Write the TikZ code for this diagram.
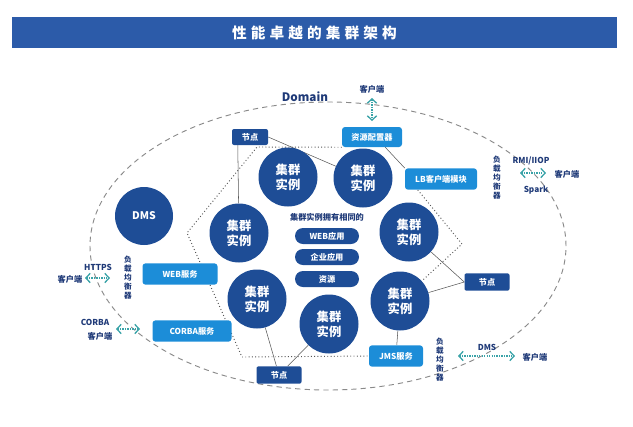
\documentclass[tikz,border=0pt]{standalone}
\usepackage{fontspec}
\setmainfont{Noto Sans CJK SC}
\usetikzlibrary{arrows.meta, backgrounds}

\definecolor{barblue}{HTML}{2C5BA9}
\definecolor{deepblue}{HTML}{1E4D96}
\definecolor{skyblue}{HTML}{1C8DD8}
\definecolor{inkblue}{HTML}{1F3A78}
\definecolor{linkteal}{HTML}{3AA3A8}
\definecolor{wiregray}{HTML}{555555}
\definecolor{ringgray}{HTML}{8A8A8A}

\newcommand{\tsp}{\hspace{3.5pt}}

\begin{document}
\begin{tikzpicture}
  [
    x = 0.3mm, y = -0.3mm,
    every node/.style = {inner sep=0pt, font=\bfseries\fontsize{7}{8}\selectfont},
    titlebar/.style = {fill=barblue, text=white, minimum width=181.5mm, minimum height=9.3mm,
      font=\bfseries\fontsize{12.5}{14}\selectfont},
    inst/.style = {circle, fill=deepblue, text=white, minimum size=17.7mm, align=center,
      font=\bfseries\fontsize{10.5}{12.5}\selectfont},
    app/.style = {rounded corners=2.4mm, fill=deepblue, text=white, minimum width=19.2mm, minimum height=4.8mm},
    svc/.style = {rounded corners=0.9mm, fill=skyblue, text=white, minimum height=6.4mm},
    host/.style = {rounded corners=0.6mm, fill=deepblue, text=white, minimum height=5.2mm},
    lbl/.style = {text=inkblue},
    vlbl/.style = {text=inkblue, align=center, font=\bfseries\fontsize{6.5}{7.7}\selectfont},
    ring/.style = {ringgray, line width=0.8pt, dash pattern=on 4.5pt off 3.5pt},
    wire/.style = {wiregray, line width=0.45pt},
    hex/.style = {wiregray, line width=0.8pt, dotted},
    link/.style = {linkteal, line width=1.1pt, densely dotted,
      {Straight Barb[length=1.3mm, width=2.8mm]}-{Straight Barb[length=1.3mm, width=2.8mm]}}
  ]
  \useasboundingbox (0,0) rectangle (633,426);

  \node[titlebar] (Title) at (314.5,32.5) {性\tsp 能\tsp 卓\tsp 越\tsp 的\tsp 集\tsp 群\tsp 架\tsp 构};

  % domain
  \draw[ring] (328,246) ellipse [x radius=71.4mm, y radius=43.2mm];
  \node[lbl, font=\bfseries\fontsize{10}{12}\selectfont] (Domain) at (305,97) {Domain};

  % cluster instances
  \node[inst] (I1) at (288,177) {集群\\实例};
  \node[inst] (I2) at (363,178) {集群\\实例};
  \node[inst] (I3) at (239,233) {集群\\实例};
  \node[inst] (I4) at (409,232) {集群\\实例};
  \node[inst] (I5) at (257,299) {集群\\实例};
  \node[inst] (I6) at (400,301) {集群\\实例};
  \node[inst] (I7) at (329,324) {集群\\实例};
  \node[inst, minimum size=17.4mm, font=\bfseries\fontsize{9}{11}\selectfont] (DMS) at (144,216) {DMS};

  \node[lbl] (Shared) at (327,217) {集群实例拥有相同的};
  \node[app] (AppWeb) at (327,236) {WEB应用};
  \node[app] (AppEnt) at (327,257) {企业应用};
  \node[app] (AppRes) at (327,279) {资源};

  % services
  \node[svc, minimum width=18mm, minimum height=6mm] (Res) at (372,137) {资源配置器};
  \node[svc, minimum width=21.6mm] (LB) at (441,179) {LB客户端模块};
  \node[svc, minimum width=22.5mm] (Web) at (180,274) {WEB服务};
  \node[svc, minimum width=23.7mm] (Corba) at (192,331) {CORBA服务};
  \node[svc, minimum width=16.2mm] (Jms) at (396,356) {JMS服务};

  \node[host, minimum width=10.8mm, minimum height=4.8mm] (NodeTL) at (250,137) {节点};
  \node[host, minimum width=13.5mm] (NodeR) at (487,282) {节点};
  \node[host, minimum width=13.5mm] (NodeB) at (279,375) {节点};

  \node[vlbl] (VLb) at (497,178) {负\\载\\均\\衡\\器};
  \node[vlbl] (VWeb) at (128,278) {负\\载\\均\\衡\\器};
  \node[vlbl] (VJms) at (440,360) {负\\载\\均\\衡\\器};

  % clients
  \node[lbl] (TopClient) at (372,89) {客户端};
  \node[lbl] (Rmi) at (531,161) {RMI/IIOP};
  \node[lbl] (Spark) at (536,190) {Spark};
  \node[lbl] (RmiClient) at (567,174) {客户端};
  \node[lbl] (Https) at (98,267) {HTTPS};
  \node[lbl] (HttpsClient) at (70,279) {客户端};
  \node[lbl] (CorbaTxt) at (95,322) {CORBA};
  \node[lbl] (CorbaClient) at (100,336) {客户端};
  \node[lbl] (DmsTxt) at (487,347) {DMS};
  \node[lbl] (DmsClient) at (535,357) {客户端};

  \coordinate (TopA) at (372,98);   \coordinate (TopB) at (372,121);
  \coordinate (RmiA) at (520,173);  \coordinate (RmiB) at (546,173);
  \coordinate (HttpsA) at (85,278); \coordinate (HttpsB) at (110,278);
  \coordinate (CorbaA) at (116,329); \coordinate (CorbaB) at (140,329);
  \coordinate (DmsA) at (458,356);  \coordinate (DmsB) at (515,356);
  \draw[link] (TopA) -- (TopB);
  \draw[link] (RmiA) -- (RmiB);
  \draw[link] (HttpsA) -- (HttpsB);
  \draw[link] (CorbaA) -- (CorbaB);
  \draw[link] (DmsA) -- (DmsB);

  \coordinate (HexT) at (257,147);
  \coordinate (HexL) at (187,233);
  \coordinate (HexBL) at (242,357);
  \coordinate (HexR) at (462,244);

  \begin{scope}[on background layer]
    \draw[hex] (Res.south west) -- (HexT) -- (HexL) -- (HexBL) -- (Jms.west);
    \draw[hex] ([xshift=3.9mm]LB.south west) -- (HexR) -- (I6);
    \draw[wire] (NodeTL.east) -- (I2);
    \draw[wire] ([xshift=1.8mm]NodeTL.south west) -- (I3);
    \draw[wire] ([xshift=-5.1mm]Res.south east) -- (LB.north west);
    \draw[wire] (I4) -- (NodeR.west);
    \draw[wire] (I6) -- (NodeR.west);
    \draw[wire] (I5) -- (NodeB);
    \draw[wire] (I7) -- (NodeB);
    \draw[wire] (I6) -- (Jms);
  \end{scope}
\end{tikzpicture}
\end{document}
